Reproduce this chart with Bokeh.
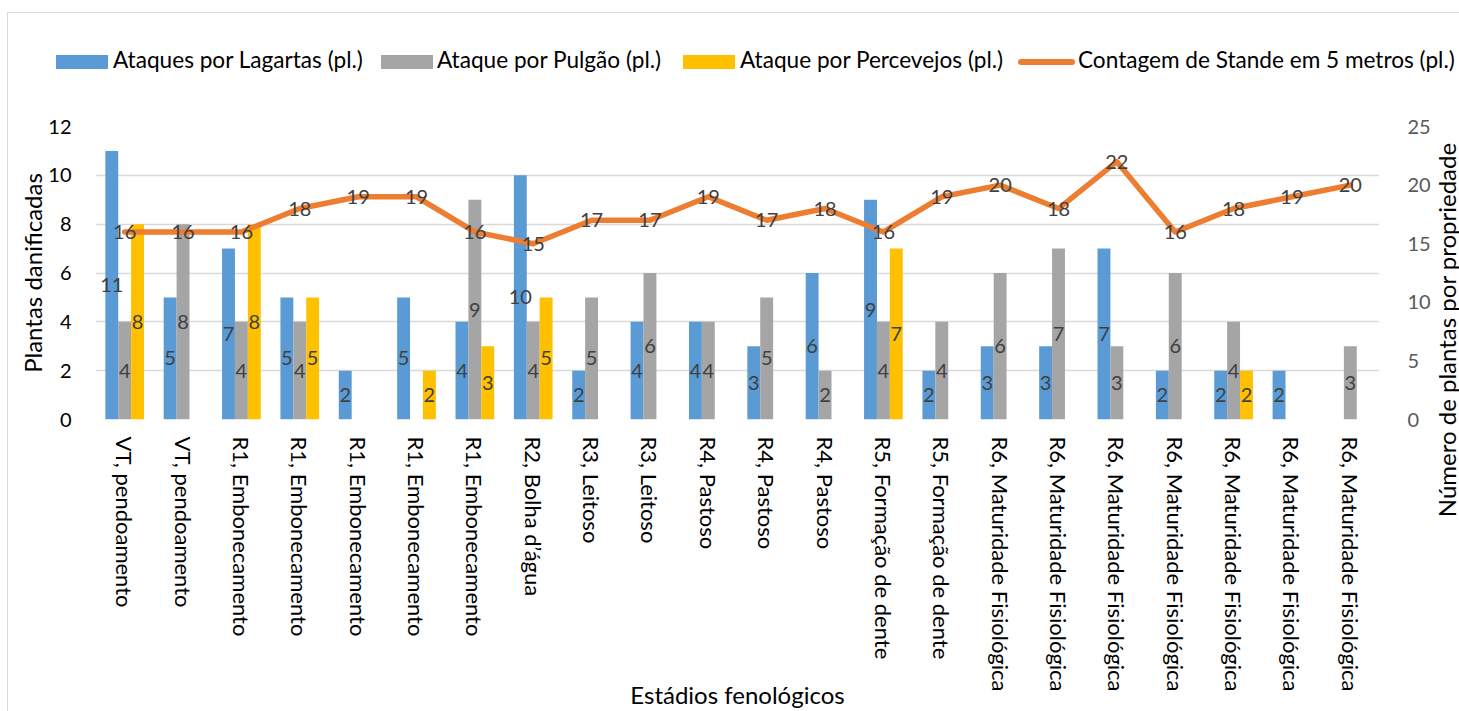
import math
from bokeh.plotting import figure
from bokeh.layouts import column, row
from bokeh.models import (ColumnDataSource, Range1d, LinearAxis, FixedTicker,
                          LabelSet, Div)
from bokeh.transform import dodge
from bokeh.core.properties import value
from bokeh.embed import file_html
from bokeh.resources import INLINE

# ---------------- data ----------------
categorias = [
    "VT, pendoamento", "VT, pendoamento",
    "R1, Embonecamento", "R1, Embonecamento", "R1, Embonecamento",
    "R1, Embonecamento", "R1, Embonecamento",
    "R2, Bolha d’água",
    "R3, Leitoso", "R3, Leitoso",
    "R4, Pastoso", "R4, Pastoso", "R4, Pastoso",
    "R5, Formação de dente", "R5, Formação de dente",
    "R6, Maturidade Fisiológica", "R6, Maturidade Fisiológica",
    "R6, Maturidade Fisiológica", "R6, Maturidade Fisiológica",
    "R6, Maturidade Fisiológica", "R6, Maturidade Fisiológica",
    "R6, Maturidade Fisiológica",
]
lagartas = [11, 5, 7, 5, 2, 5, 4, 10, 2, 4, 4, 3, 6, 9, 2, 3, 3, 7, 2, 2, 2, None]
pulgao = [4, 8, 4, 4, None, None, 9, 4, 5, 6, 4, 5, 2, 4, 4, 6, 7, 3, 6, 4, None, 3]
percevejos = [8, None, 8, 5, None, 2, 3, 5, None, None, None, None, None, 7, None,
              None, None, None, None, 2, None, None]
stande = [16, 16, 16, 18, 19, 19, 16, 15, 17, 17, 19, 17, 18, 16, 19, 20, 18, 22, 16,
          18, 19, 20]

serie_nomes = ["Ataques por Lagartas (pl.)", "Ataque por Pulgão (pl.)",
               "Ataque por Percevejos (pl.)", "Contagem de Stande em 5 metros (pl.)"]
titulo_esq = "Plantas danificadas"
titulo_dir = "Número de plantas por propriedade"
titulo_x = "Estádios fenológicos"
left_ticks = [0, 2, 4, 6, 8, 10, 12]
right_ticks = [0, 5, 10, 15, 20, 25]

# ---------------- styling ----------------
C_BLUE, C_GRAY, C_YEL, C_ORA = "#5B9BD5", "#A5A5A5", "#FFC000", "#ED7D31"
serie_cores = [C_BLUE, C_GRAY, C_YEL, C_ORA]
FONT = "Lato"
BORDER = "#D9D9D9"
BW = 0.221
W = 1459
H_LEG = 100
H_MAIN = 611
W_TIT = 26
W_LB = 8

n = len(categorias)
xs = list(range(1, n + 1))
nan = float("nan")


def clean(v):
    return [nan if a is None else a for a in v]


src = ColumnDataSource(dict(x=xs, lag=clean(lagartas), pul=clean(pulgao),
                            per=clean(percevejos), st=stande))

# ================= legend strip (HTML) =================
key_left = [56, 381, 683, 1018]
text_left = [113, 437, 740, 1078]
parts = ['<div style="position:relative;width:%dpx;height:%dpx;font-family:Lato;'
         'font-size:22.6px;color:#000000;">' % (W, H_LEG)]
# chart-area border (top and left edges)
parts.append('<div style="position:absolute;left:7px;top:12px;width:%dpx;height:1px;'
             'background:%s;"></div>' % (W - 7, BORDER))
parts.append('<div style="position:absolute;left:7px;top:12px;width:1px;height:%dpx;'
             'background:%s;"></div>' % (H_LEG - 12, BORDER))
for i, (nome, cor) in enumerate(zip(serie_nomes, serie_cores)):
    if i < 3:
        parts.append('<div style="position:absolute;left:%dpx;top:55px;width:52px;'
                     'height:14px;background:%s;"></div>' % (key_left[i], cor))
    else:
        parts.append('<div style="position:absolute;left:%dpx;top:59px;width:57px;'
                     'height:6px;border-radius:3px;background:%s;"></div>' % (key_left[i], cor))
    parts.append('<div style="position:absolute;left:%dpx;top:46px;line-height:28px;'
                 'white-space:nowrap;">%s</div>' % (text_left[i], nome))
parts.append('</div>')
leg = Div(text="".join(parts), width=W, height=H_LEG, margin=0)

# ================= left border strip =================
lbdiv = Div(text=('<div style="position:relative;width:%dpx;height:%dpx;">'
                  '<div style="position:absolute;left:7px;top:0px;width:1px;height:%dpx;'
                  'background:%s;"></div></div>') % (W_LB, H_MAIN, H_MAIN, BORDER),
            width=W_LB, height=H_MAIN, margin=0)

# ================= right axis title (HTML, reads bottom-to-top) =================
tdiv = Div(text=('<div style="position:relative;width:%dpx;height:%dpx;">'
                 '<div style="position:absolute;left:13px;top:230px;'
                 'transform:translate(-50%%,-50%%) rotate(-90deg);white-space:nowrap;'
                 'font-family:Lato;font-size:24px;line-height:29px;color:#000000;">%s</div>'
                 '</div>') % (W_TIT, H_MAIN, titulo_dir),
           width=W_TIT, height=H_MAIN, margin=0)

# ================= main chart =================
p = figure(width=W - W_TIT - W_LB, height=H_MAIN, output_backend="svg",
           toolbar_location=None,
           x_range=Range1d(0.5, n + 0.5), y_range=Range1d(0, 12),
           min_border_left=95 - W_LB, min_border_right=71 - W_TIT, min_border_top=26,
           min_border_bottom=292)
p.extra_y_ranges = {"dir": Range1d(0, 25)}
p.outline_line_color = None
p.background_fill_color = "white"
p.border_fill_color = "white"

# grid
p.xgrid.grid_line_color = None
p.ygrid.grid_line_color = "#D9D9D9"
p.ygrid.grid_line_width = 1.5

# left axis
ya = p.yaxis[0]
ya.ticker = FixedTicker(ticks=left_ticks)
ya.axis_line_color = None
ya.major_tick_line_color = None
ya.minor_tick_line_color = None
ya.major_label_text_font = FONT
ya.major_label_text_font_size = "20px"
ya.major_label_text_color = "#000000"
ya.major_label_standoff = 18
ya.axis_label = titulo_esq
ya.axis_label_text_font = FONT
ya.axis_label_text_font_size = "24px"
ya.axis_label_text_font_style = "normal"
ya.axis_label_text_color = "#000000"
ya.axis_label_standoff = -2

# x axis
xa = p.xaxis[0]
xa.ticker = FixedTicker(ticks=xs)
xa.major_label_overrides = {i: c for i, c in zip(xs, categorias)}
xa.major_label_orientation = -math.pi / 2
xa.axis_line_color = None
xa.major_tick_line_color = None
xa.minor_tick_line_color = None
xa.major_label_text_font = FONT
xa.major_label_text_font_size = "22px"
xa.major_label_text_color = "#000000"
xa.major_label_standoff = 11
xa.axis_label = titulo_x
xa.axis_label_text_font = FONT
xa.axis_label_text_font_size = "24px"
xa.axis_label_text_font_style = "normal"
xa.axis_label_text_color = "#000000"
xa.axis_label_standoff = -15

# right axis
ra = LinearAxis(y_range_name="dir", ticker=FixedTicker(ticks=right_ticks))
ra.axis_line_color = None
ra.major_tick_line_color = None
ra.minor_tick_line_color = None
ra.major_label_text_font = FONT
ra.major_label_text_font_size = "20px"
ra.major_label_text_color = "#595959"
ra.major_label_standoff = 22
p.add_layout(ra, "right")

# bars
p.vbar(x=dodge("x", -BW), top="lag", width=BW, source=src,
       fill_color=C_BLUE, line_color=None)
p.vbar(x="x", top="pul", width=BW, source=src,
       fill_color=C_GRAY, line_color=None)
p.vbar(x=dodge("x", BW), top="per", width=BW, source=src,
       fill_color=C_YEL, line_color=None)

# line
p.line(x="x", y="st", source=src, y_range_name="dir", line_color=C_ORA,
       line_width=5.5, line_join="round", line_cap="round")


# data labels (bars: centered in bar)
def bar_labels(vals, off):
    xx, yy, tt = [], [], []
    for xi, v in zip(xs, vals):
        if v is not None:
            xx.append(xi)
            yy.append(v / 2)
            tt.append(str(v))
    s = ColumnDataSource(dict(x=xx, y=yy, t=tt))
    ls = LabelSet(x=dodge("x", off), y="y", text="t", source=s,
                  text_align="center", text_baseline="middle",
                  text_font=value(FONT), text_font_size="20px", text_color="#404040")
    p.add_layout(ls)


bar_labels(lagartas, -BW)
bar_labels(pulgao, 0)
bar_labels(percevejos, BW)

st_lab = LabelSet(x="x", y="st", text="t", y_range_name="dir",
                  source=ColumnDataSource(dict(x=xs, st=stande, t=[str(v) for v in stande])),
                  text_align="center", text_baseline="middle",
                  text_font=value(FONT), text_font_size="20px", text_color="#404040")
p.add_layout(st_lab)

page = column(leg, row(lbdiv, p, tdiv, spacing=0), spacing=0)
open("out.html", "w").write(file_html(page, INLINE))
